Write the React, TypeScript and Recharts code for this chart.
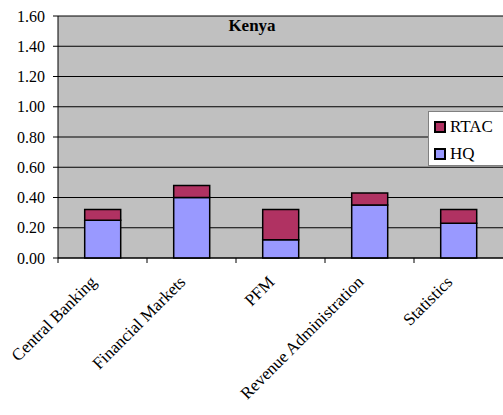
import React from "react";
import { BarChart, Bar, XAxis, YAxis, CartesianGrid } from "recharts";

const categories = [
  "Central Banking",
  "Financial Markets",
  "PFM",
  "Revenue Administration",
  "Statistics",
];
const hqValues = [0.25, 0.4, 0.12, 0.35, 0.23];
const rtacValues = [0.07, 0.08, 0.2, 0.08, 0.09];
const yTicks = [0, 0.2, 0.4, 0.6, 0.8, 1.0, 1.2, 1.4, 1.6];

const data = categories.map((name, i) => ({
  name,
  HQ: hqValues[i],
  RTAC: rtacValues[i],
}));

const W = 503;
const H = 415;
const LEFT = 58;
const TOP = 16;
const XAXIS_H = 157;
const FONT = '"Liberation Serif", "Times New Roman", Times, serif';
const HQ_COLOR = "#9999FF";
const RTAC_COLOR = "#B03262";
const band = (W - LEFT) / categories.length;

const CategoryTick = (props: any) => {
  const { x, y, payload } = props;
  const bx = x - band / 2;
  const tx = x - 5;
  const ty = y + 25;
  return (
    <g>
      <line x1={bx} y1={y} x2={bx} y2={y + 5} stroke="#000" strokeWidth={1} />
      <text
        x={tx}
        y={ty}
        transform={`rotate(-45, ${tx}, ${ty})`}
        textAnchor="end"
        style={{ fontFamily: FONT, fontSize: 17 }}
        fill="#000"
      >
        {payload.value}
      </text>
    </g>
  );
};

const legendItems = [
  { label: "RTAC", color: RTAC_COLOR },
  { label: "HQ", color: HQ_COLOR },
];

const LegendBox = () => (
  <div
    style={{
      position: "absolute",
      left: 428,
      top: 111,
      background: "#fff",
      border: "1px solid #808080",
      width: 80,
      height: 55,
      boxSizing: "border-box",
      padding: "3px 0 0 5px",
      fontFamily: FONT,
      fontSize: 17,
      color: "#000",
    }}
  >
    {legendItems.map((it) => (
      <div
        key={it.label}
        style={{ display: "flex", alignItems: "center", height: 24, marginBottom: 3 }}
      >
        <span
          style={{
            display: "inline-block",
            width: 12,
            height: 12,
            boxSizing: "border-box",
            background: it.color,
            border: "2px solid #000",
            marginRight: 4,
          }}
        />
        <span>{it.label}</span>
      </div>
    ))}
  </div>
);

export default function App() {
  return (
    <div style={{ position: "absolute", left: 0, top: 0, width: W, height: H, background: "#fff" }}>
      <BarChart
        width={W}
        height={H}
        data={data}
        margin={{ top: TOP, right: 0, bottom: 0, left: 0 }}
        barCategoryGap="30%"
      >
        <CartesianGrid vertical={false} stroke="#000" strokeWidth={1} fill="#C0C0C0" fillOpacity={1} />
        <XAxis
          dataKey="name"
          interval={0}
          height={XAXIS_H}
          tickSize={0}
          tickMargin={0}
          tickLine={false}
          axisLine={{ stroke: "#000", strokeWidth: 1 }}
          tick={<CategoryTick />}
        />
        <YAxis
          width={LEFT}
          domain={[0, 1.6]}
          ticks={yTicks}
          interval={0}
          tickFormatter={(v: number) => v.toFixed(2)}
          tickSize={5}
          tickMargin={8}
          tickLine={{ stroke: "#000" }}
          axisLine={{ stroke: "#000", strokeWidth: 1 }}
          tick={{ fontFamily: FONT, fontSize: 16, fill: "#000" }}
        />
        <Bar dataKey="HQ" stackId="s" fill={HQ_COLOR} stroke="#000" strokeWidth={1.5} isAnimationActive={false} />
        <Bar dataKey="RTAC" stackId="s" fill={RTAC_COLOR} stroke="#000" strokeWidth={1.5} isAnimationActive={false} />
      </BarChart>
      <LegendBox />
      <div
        style={{
          position: "absolute",
          left: 252,
          top: 16,
          transform: "translateX(-50%)",
          fontFamily: FONT,
          fontWeight: "bold",
          fontSize: 17,
          color: "#000",
        }}
      >
        Kenya
      </div>
    </div>
  );
}
